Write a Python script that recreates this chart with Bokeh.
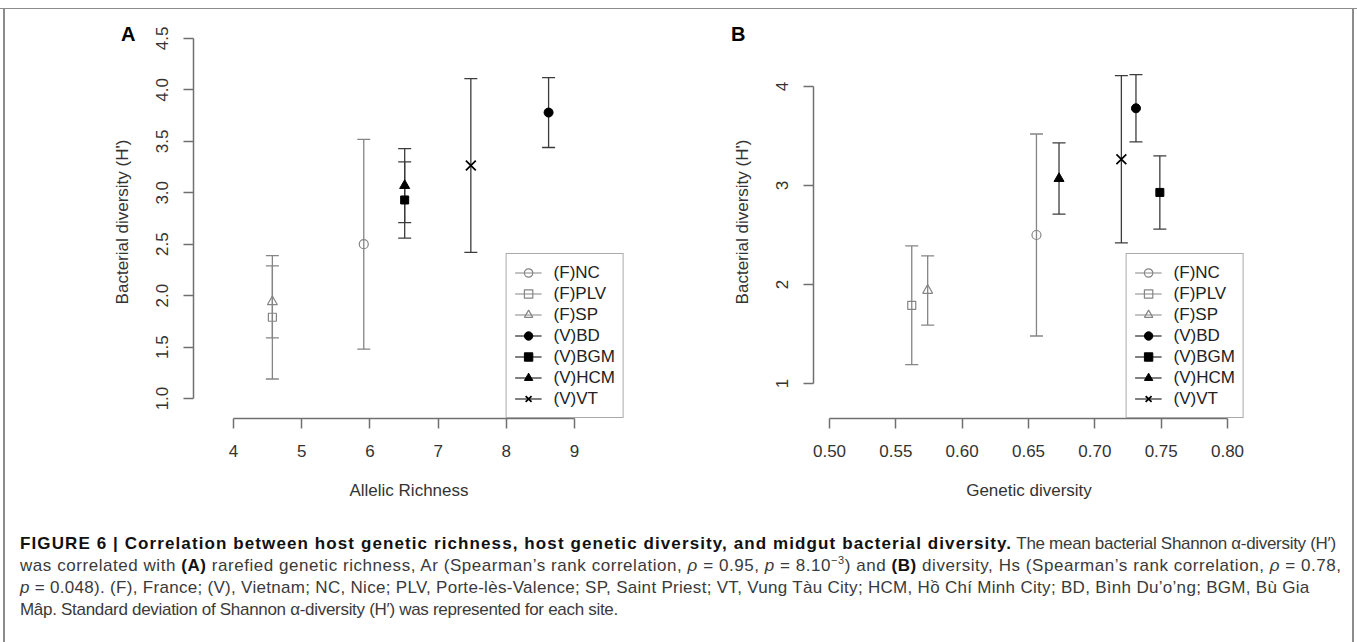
import numpy as np
from bokeh.plotting import figure
from bokeh.models import (ColumnDataSource, Whisker, TeeHead, FixedTicker, GridBox,
                          PrintfTickFormatter, Legend, LegendItem, Div, Range1d)
from bokeh.embed import file_html
from bokeh.resources import INLINE

# ---------------- data ----------------
sites = ["(F)NC", "(F)PLV", "(F)SP", "(V)BD", "(V)BGM", "(V)HCM", "(V)VT"]
allelic_richness = [5.91, 4.57, 4.57, 8.62, 6.51, 6.51, 7.48]
genetic_diversity = [0.656, 0.562, 0.574, 0.731, 0.749, 0.673, 0.720]
h_mean = [2.50, 1.79, 1.94, 3.78, 2.93, 3.07, 3.265]
h_sd = [1.02, 0.60, 0.35, 0.34, 0.37, 0.36, 0.845]

a_xticks = [4, 5, 6, 7, 8, 9]
a_yticks = [1.0, 1.5, 2.0, 2.5, 3.0, 3.5, 4.0, 4.5]
b_xticks = [0.50, 0.55, 0.60, 0.65, 0.70, 0.75, 0.80]
b_yticks = [1, 2, 3, 4]

# ---------------- styles ----------------
MARKERS = ["circle", "square", "triangle", "circle", "square", "triangle", "x"]
SIZES = [9, 8, 10, 9, 8, 10, 14]
GREY = "#858585"
DARK = "#3c3c3c"
AXIS = "#707070"
TXT = "#333333"
FONT = "Liberation Sans"


def is_french(s):
    return s.startswith("(F)")


def make_panel(xvals, xrange_, yrange_, xticks, yticks, xfmt, yfmt, xlabel,
               width, mbl, mbr, mbb):
    p = figure(width=width, height=522, output_backend="svg", toolbar_location=None,
               x_range=Range1d(*xrange_), y_range=Range1d(*yrange_),
               min_border_left=mbl, min_border_right=mbr, min_border_top=25,
               min_border_bottom=mbb)
    p.outline_line_color = None
    p.xgrid.visible = False
    p.ygrid.visible = False
    p.background_fill_color = "white"
    p.border_fill_color = None

    for ax, ticks, fmt in ((p.xaxis[0], xticks, xfmt), (p.yaxis[0], yticks, yfmt)):
        ax.ticker = FixedTicker(ticks=ticks)
        ax.formatter = PrintfTickFormatter(format=fmt)
        ax.bounds = (ticks[0], ticks[-1])
        ax.axis_line_color = AXIS
        ax.axis_line_width = 1.5
        ax.major_tick_line_color = AXIS
        ax.major_tick_line_width = 1.5
        ax.major_tick_out = 10
        ax.major_tick_in = 0
        ax.minor_tick_line_color = None
        ax.major_label_text_font = FONT
        ax.major_label_text_font_size = "17px"
        ax.major_label_text_color = TXT
        ax.axis_label_text_font = FONT
        ax.axis_label_text_font_size = "17px"
        ax.axis_label_text_font_style = "normal"
        ax.axis_label_text_color = TXT
    p.xaxis.major_label_standoff = 16
    p.xaxis.axis_label_standoff = 21
    p.yaxis.major_label_standoff = 15
    p.yaxis.axis_label_standoff = 22
    p.yaxis.major_label_orientation = "vertical"
    p.xaxis.axis_label = xlabel
    p.yaxis.axis_label = "Bacterial diversity (H')"

    # error bars (mean +/- sd), grouped by country
    for french in (True, False):
        idx = [i for i, s in enumerate(sites) if is_french(s) == french]
        col = GREY if french else DARK
        src = ColumnDataSource(data=dict(
            x=[xvals[i] for i in idx],
            upper=[h_mean[i] + h_sd[i] for i in idx],
            lower=[h_mean[i] - h_sd[i] for i in idx]))
        w = Whisker(source=src, base="x", upper="upper", lower="lower",
                    dimension="height", line_color=col, line_width=1.3,
                    upper_head=TeeHead(size=13, line_color=col, line_width=1.3),
                    lower_head=TeeHead(size=13, line_color=col, line_width=1.3))
        p.add_layout(w)

    items = []
    for i, s in enumerate(sites):
        french = is_french(s)
        src = ColumnDataSource(data=dict(x=xvals[i:i + 1], y=h_mean[i:i + 1]))
        if french:
            mr = p.scatter("x", "y", source=src, marker=MARKERS[i], size=SIZES[i],
                           fill_color=None, line_color=GREY, line_width=1.2)
        else:
            mr = p.scatter("x", "y", source=src, marker=MARKERS[i], size=SIZES[i],
                           fill_color="black", line_color="black",
                           line_width=1.7 if MARKERS[i] == "x" else 1)
        # a one-point line draws nothing on the plot, but gives the legend its line
        lr = p.line("x", "y", source=src, line_color=GREY if french else "black",
                    line_width=1.2)
        items.append(LegendItem(label=s, renderers=[lr, mr]))

    leg = Legend(items=items, location="bottom_right", margin=0, padding=8, spacing=0,
                 glyph_width=27, glyph_height=21, label_height=21, label_standoff=12,
                 border_line_color="#555555", border_line_width=1.2,
                 background_fill_color="white", background_fill_alpha=1.0,
                 label_text_font=FONT, label_text_font_size="17px",
                 label_text_color="#222222")
    p.add_layout(leg)
    return p


pa = make_panel(allelic_richness, (3.4135, 9.733), (0.806, 4.626),
                a_xticks, a_yticks, "%d", "%.1f", "Allelic Richness",
                690, 193, 66, 103)
pb = make_panel(genetic_diversity, (0.48794, 0.81281), (0.6465, 4.616),
                b_xticks, b_yticks, "%.2f", "%d", "Genetic diversity",
                667, 123, 113, 104)

letter_style = ("position:absolute;top:23px;font-family:'Liberation Sans',sans-serif;"
                "font-weight:bold;font-size:20px;line-height:23px;color:#000;")
letters = Div(text=(
    '<div style="position:relative;width:1357px;height:60px;">'
    '<span style="' + letter_style + 'left:121px;">A</span>'
    '<span style="' + letter_style + 'left:731px;">B</span>'
    '</div>'), width=1357, height=60, margin=0)

sup = ('<span style="font-size:11px;vertical-align:super;line-height:0">&minus;3</span>')
caption_html = (
    '<div style="font-family:\'Liberation Sans\',sans-serif;font-size:17px;line-height:22px;'
    'color:#3a3a3a;white-space:nowrap;padding:11px 0 0 20px;">'
    '<span style="letter-spacing:1.1px"><b style="color:#111">FIGURE 6 | Correlation between host '
    'genetic richness, host genetic diversity, and midgut bacterial diversity.</b></span>'
    '<span style="letter-spacing:-0.3px"> The mean bacterial Shannon &alpha;-diversity (H&prime;)</span><br>'
    '<span style="letter-spacing:0.55px">was correlated with <b style="color:#111">(A)</b> rarefied '
    'genetic richness, Ar (Spearman&rsquo;s rank correlation, <i>&rho;</i> = 0.95, <i>p</i> = 8.10'
    + sup +
    ') and <b style="color:#111">(B)</b> diversity, Hs (Spearman&rsquo;s rank correlation, '
    '<i>&rho;</i> = 0.78,</span><br>'
    '<span style="letter-spacing:0.3px"><i>p</i> = 0.048). (F), France; (V), Vietnam; NC, Nice; PLV, '
    'Porte-l&egrave;s-Valence; SP, Saint Priest; VT, Vung T&agrave;u City; HCM, H&#7891; Ch&iacute; '
    'Minh City; BD, B&igrave;nh Du&rsquo;o&rsquo;ng; BGM, B&ugrave; Gia</span><br>'
    '<span style="letter-spacing:-0.3px">M&acirc;p. Standard deviation of Shannon &alpha;-diversity '
    '(H&prime;) was represented for each site.</span>'
    '</div>'
)
caption = Div(text=caption_html, width=1357, height=120, margin=0)

layout = GridBox(children=[(pa, 0, 0), (pb, 0, 1), (letters, 0, 0, 1, 2), (caption, 1, 0, 1, 2)],
                 styles={"background": "white",
                         "box-shadow": "inset 0 8px 0 0 white, inset 0 9px 0 0 #8c8c8c, "
                                       "inset 3px 0 0 0 white, inset 5px 0 0 0 #8c8c8c, "
                                       "inset -3px 0 0 0 white, inset -5px 0 0 0 #8c8c8c"})

with open("out.html", "w") as f:
    f.write(file_html(layout, INLINE))
